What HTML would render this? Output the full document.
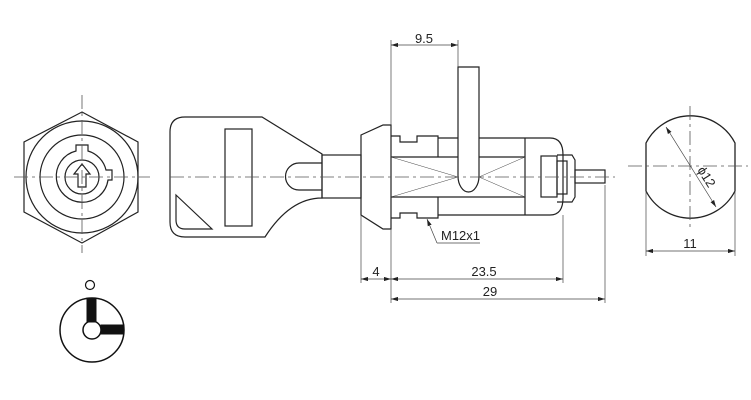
<!DOCTYPE html>
<html><head><style>body{margin:0;background:#fff}svg{display:block}text{font-family:"Liberation Sans",sans-serif;font-size:13px;fill:#222}</style></head><body>
<svg width="751" height="400" viewBox="0 0 751 400" xmlns="http://www.w3.org/2000/svg">
<defs><marker id="a" viewBox="0 0 10 6" refX="10" refY="3" markerWidth="10" markerHeight="6" orient="auto-start-reverse"><path d="M0,0L10,3L0,6z" fill="#222"/></marker></defs>
<g fill="none" stroke="#222" stroke-width="1.2">
<!-- hex view -->
<polygon points="82,112 138,142 138,212 82,243 24,212 24,142"/>
<circle cx="82" cy="177" r="56"/>
<circle cx="82" cy="177" r="42"/>
<path d="M76,151 L76,145 L88,145 L88,151 A26,26 0 0 1 106,170 L112,170 L112,180 L108,180 A26,26 0 1 1 76,151 Z"/>
<circle cx="82" cy="177" r="17"/>
<path d="M82,164 L90,174 L86,174 L86,187 L78,187 L78,174 L74,174 Z"/>
<!-- key -->
<path d="M185,117 L262,117 L322,154 L322,198 Q290,198 265,237 L185,237 Q170,237 170,222 L170,132 Q170,117 185,117 Z"/>
<rect x="225" y="129" width="27" height="97"/>
<path d="M176,195 L212,229 L185,229 Q176,229 176,220 Z"/>
<path d="M322,163 L299,163 A13.5,13.5 0 0 0 299,190 L322,190"/>
<rect x="322" y="155" width="39" height="43"/>
<!-- body -->
<polygon points="361,135 383,125 391,125 391,229 383,229 361,215"/>
<path d="M391,136 L400,136 L400,142 L417,142 L417,136 L438,136 L438,157"/>
<path d="M391,218 L400,218 L400,213 L417,213 L417,218 L438,218 L438,197"/>
<line x1="438" y1="138" x2="525" y2="138"/>
<line x1="438" y1="215" x2="525" y2="215"/>
<line x1="391" y1="157" x2="525" y2="157"/>
<line x1="391" y1="197" x2="525" y2="197"/>
<line x1="525" y1="138" x2="525" y2="215"/>
<path d="M525,138 L550,138 Q563,138 563,155 L563,198 Q563,215 550,215 L525,215"/>
<rect x="541" y="156" width="16" height="41"/>
<rect x="557" y="161" width="10" height="33"/>
<path d="M557,155 L572,155 L575,160 L575,197 L572,202 L557,202"/>
<rect x="575" y="170" width="30" height="13"/>
<path d="M458,67 L479,67 L479,176 A10.5,16 0 0 1 458,176 Z" fill="#fff"/>
</g>
<g stroke="#444" stroke-width="0.5" fill="none">
<path d="M391,157 L458,177 L391,197 M479,177 L525,157 M479,177 L525,197"/>
</g>
<!-- right view -->
<g fill="none" stroke="#222" stroke-width="1.3">
<path d="M646,143 A50,50 0 0 1 735,143 L735,191 A50,50 0 0 1 646,191 Z"/>
</g>
<!-- bottom circle -->
<g stroke="#111" fill="none">
<circle cx="92" cy="330" r="32" stroke-width="1.5"/>
<circle cx="90" cy="285" r="4.5" stroke-width="1.2"/>
<circle cx="92" cy="330" r="9" stroke-width="1.5"/>
<rect x="87" y="298" width="9" height="24" fill="#111"/>
<rect x="101" y="325" width="23" height="9" fill="#111"/>
</g>
<!-- center lines -->
<g stroke="#555" stroke-width="0.8" stroke-dasharray="14,4,3,4" fill="none">
<line x1="14" y1="177" x2="150" y2="177"/>
<line x1="82" y1="95" x2="82" y2="253"/>
<line x1="170" y1="177" x2="615" y2="177"/>
<line x1="628" y1="166" x2="748" y2="166"/>
<line x1="690" y1="106" x2="690" y2="228"/>
</g>
<!-- dimensions -->
<g stroke="#444" stroke-width="0.7" fill="none">
<line x1="391" y1="40" x2="391" y2="125"/>
<line x1="458" y1="40" x2="458" y2="67"/>
<line x1="391" y1="45" x2="458" y2="45" marker-start="url(#a)" marker-end="url(#a)"/>
<line x1="361" y1="215" x2="361" y2="283"/>
<line x1="391" y1="229" x2="391" y2="303"/>
<line x1="563" y1="215" x2="563" y2="283"/>
<line x1="605" y1="185" x2="605" y2="303"/>
<line x1="361" y1="279" x2="391" y2="279" marker-start="url(#a)" marker-end="url(#a)"/>
<line x1="391" y1="279" x2="563" y2="279" marker-start="url(#a)" marker-end="url(#a)"/>
<line x1="391" y1="299" x2="605" y2="299" marker-start="url(#a)" marker-end="url(#a)"/>
<path d="M437,243 L480,243"/>
<line x1="437" y1="243" x2="427" y2="219" marker-end="url(#a)"/>
<line x1="646" y1="191" x2="646" y2="256"/>
<line x1="735" y1="191" x2="735" y2="256"/>
<line x1="646" y1="251" x2="735" y2="251" marker-start="url(#a)" marker-end="url(#a)"/>
<line x1="666" y1="127" x2="716" y2="207" marker-start="url(#a)" marker-end="url(#a)"/>
</g>
<text x="424" y="43" text-anchor="middle">9.5</text>
<text x="376" y="276" text-anchor="middle">4</text>
<text x="484" y="276" text-anchor="middle">23.5</text>
<text x="490" y="296" text-anchor="middle">29</text>
<text x="441" y="240">M12x1</text>
<text x="690" y="248" text-anchor="middle">11</text>
<text x="0" y="0" transform="translate(697,170) rotate(58)">ϕ12</text>
</svg>
</body></html>
